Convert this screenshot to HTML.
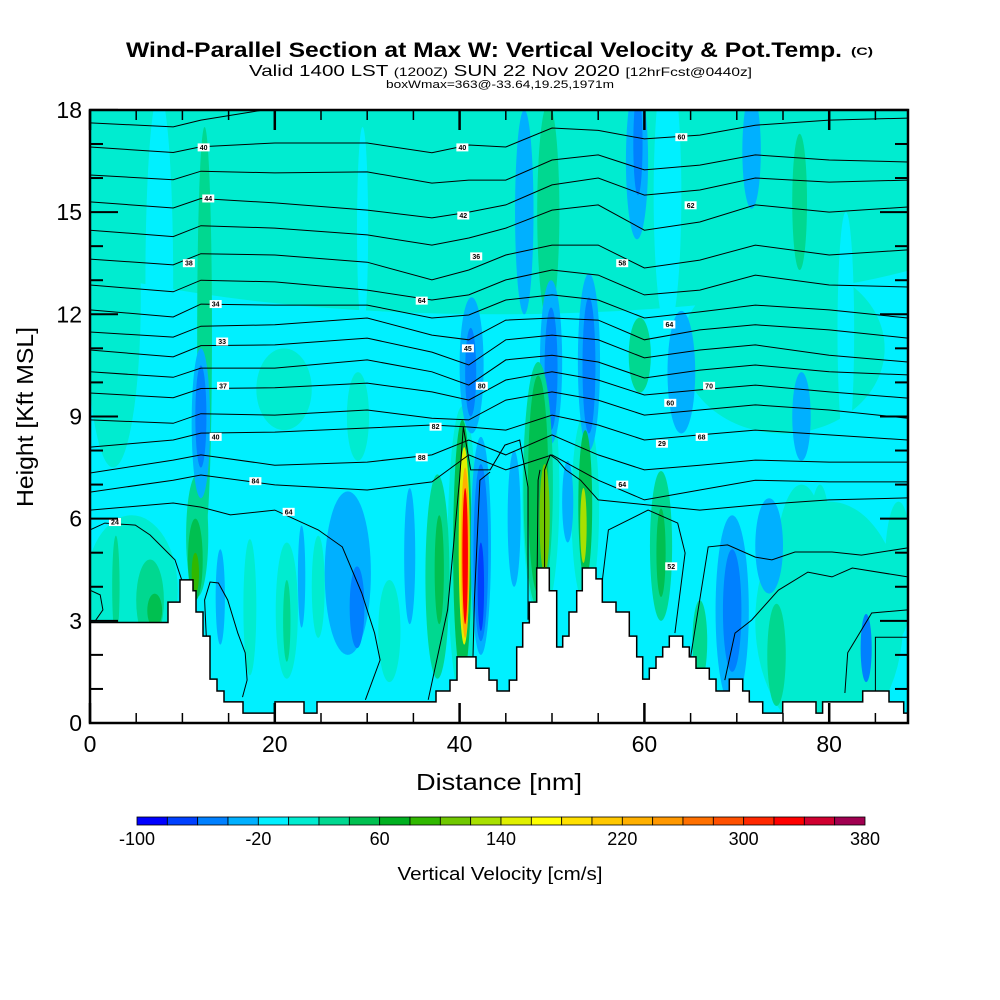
<!DOCTYPE html>
<html><head><meta charset="utf-8"><style>
html,body{margin:0;padding:0;background:#fff}
svg{display:block}
text{font-family:"Liberation Sans",Arial,sans-serif}
</style></head><body>
<svg id="chart" width="1000" height="1000" viewBox="0 0 1000 1000">
<defs><clipPath id="plotclip"><rect x="90" y="110" width="818" height="613"/></clipPath></defs>
<g>
<text x="126" y="57" font-size="21" font-weight="bold" textLength="716" lengthAdjust="spacingAndGlyphs">Wind-Parallel Section at Max W: Vertical Velocity &amp; Pot.Temp.</text>
<text x="851" y="55" font-size="11" font-weight="bold" textLength="22" lengthAdjust="spacingAndGlyphs">(C)</text>
<text x="249" y="76" font-size="16" textLength="503" lengthAdjust="spacingAndGlyphs">Valid 1400 LST <tspan font-size="12">(1200Z)</tspan> SUN 22 Nov 2020 <tspan font-size="12">[12hrFcst@0440z]</tspan></text>
<text x="386" y="88" font-size="11" textLength="228" lengthAdjust="spacingAndGlyphs">boxWmax=363@-33.64,19.25,1971m</text>
</g>
<g id="plot" clip-path="url(#plotclip)"></g>
<g id="axes"></g>
<g id="cbar"></g>
<text transform="translate(33,417) rotate(-90)" text-anchor="middle" font-size="23" textLength="180" lengthAdjust="spacingAndGlyphs">Height [Kft MSL]</text>
<text x="499" y="790" text-anchor="middle" font-size="23" textLength="166" lengthAdjust="spacingAndGlyphs">Distance [nm]</text>
<text x="500" y="880" text-anchor="middle" font-size="18" textLength="205" lengthAdjust="spacingAndGlyphs">Vertical Velocity [cm/s]</text>
</svg>
<script>
// ---- data ----
const binColors=["#0000ff","#0040ff","#0080ff","#00b0ff","#00f0ff","#00ecd0","#00d890","#00c050","#00b020","#30b800","#70c800","#a8e000","#e0f000","#ffff00","#ffe000","#ffc800","#ffb000","#ff9800","#ff7000","#ff5000","#ff2800","#ff0000","#d00030","#a00050"];
const cbarTicks=[-100,-20,60,140,220,300,380];
const xTicks=[0,20,40,60,80];
const yTicks=[0,3,6,9,12,15,18];
const baseW=-10;
const featX=[44,75,4.5,77,48.8,53.6,40.3,87.5,21,29,2.5,80,7.5,62.5,81.8,29.5,12.4,11.6,11.4,11.4,12.0,12.0,2.8,6.5,7,14.1,27.9,28.9,22.9,34.6,21.3,21.3,17.3,24.7,32.4,37.6,37.8,40.3,40.5,40.6,40.6,42.3,42.3,42.3,41.3,41.2,47,49.6,59.2,59.3,71.6,76.8,49.9,54,49.9,54,64,77,59.5,48.5,48.5,49.2,53.6,53.4,45.9,51.7,61.8,61.8,66,69.5,69.5,73.5,84,79,74.3];
const featY=[16.2,11,3.9,4,6.8,6.3,5.0,4.5,9.8,9.0,12.5,3,13,15.5,11.5,14.5,11.5,5.5,4.8,4.4,8.8,9.0,4.0,3.6,3.3,3.7,4.4,3.4,4.3,4.9,3.3,3.0,3.4,4.0,2.7,4.3,4.5,5.1,5.2,5.0,4.9,5.2,5.0,4.0,10.5,10.3,15,15,16.5,17,16.8,15.3,10.6,10.6,10.4,10.5,10.3,9,10.8,7.0,7.0,6.0,6.4,5.8,6.0,6.5,5.2,5.0,2.4,3.3,3.3,5.2,2.2,4.5,2.0];
const featRX=[62,11,5,3,2.0,1.5,1.6,1.5,3,1.2,3,8,1.5,1.5,0.9,0.6,0.8,1.2,0.8,0.4,1.0,0.6,0.4,1.5,0.8,0.5,2.5,0.8,0.4,0.6,1.2,0.4,0.7,0.7,1.2,1.3,0.5,1.0,0.6,0.45,0.3,1.1,0.8,0.35,1.3,0.6,1,1.2,1.2,0.5,1,0.8,1.2,1.2,0.7,0.7,1.5,1,1.2,1.6,1.1,0.55,0.75,0.35,0.7,0.6,1.2,0.5,0.8,1.8,1.0,1.5,0.6,1.3,1];
const featRY=[4.2,2.5,2.2,3,3.8,2.8,4.3,2,1.2,1.3,5,3.5,5.5,4,3.5,3,6,1.8,1.2,0.6,2.2,1.5,1.5,1.2,0.5,1.4,2.4,1.2,1.5,2,2,1.2,2,1.5,1.5,3,1.6,3.8,2.9,2.5,2.0,3.2,2.6,1.3,2.0,1.3,3,3.2,2.3,1.5,1.7,2,2.4,2.6,1.8,2,1.8,1.3,1.1,3.6,3.2,1.6,2.2,1.1,2,1.2,2.2,1.3,1.2,2.8,1.8,1.4,1,2.5,1.5];
const featW=[10,10,10,10,10,10,10,10,10,10,10,10,-10,-10,-10,-10,30,30,50,90,-30,-50,30,30,50,-30,-30,-50,-30,-30,10,30,10,10,10,30,50,50,150,230,330,-30,-50,-70,-30,-50,-30,30,-30,-50,-30,30,-30,-30,-50,-50,-30,-30,30,30,50,110,50,130,-30,-30,30,50,30,-30,-50,-30,-50,10,30];
const terrainNm=[0,8.44,9.74,11.15,11.47,12.23,12.99,13.74,14.50,16.56,20.02,23.16,24.57,37.45,38.96,39.72,41.77,43.18,44.05,45.38,46.18,46.83,47.54,48.34,49.71,50.51,51.16,51.84,52.67,53.28,54.76,55.44,56.93,58.37,59.17,59.82,60.53,61.26,61.98,62.69,64.14,64.86,65.58,67.02,67.75,69.19,70.64,71.35,72.80,74.97,78.57,79.29,83.63,86.47,88.06];
const terrainKft=[2.95,3.55,4.2,3.88,3.26,2.55,1.29,0.94,0.62,0.29,0.62,0.29,0.62,0.94,1.26,1.94,1.61,1.26,0.94,1.26,2.23,2.94,3.55,4.55,3.88,2.23,2.55,3.26,3.88,4.55,4.23,3.55,3.26,2.55,1.94,1.29,1.61,1.94,2.23,2.55,2.23,1.94,1.61,1.29,0.94,1.29,0.94,0.62,0.29,0.62,0.29,0.62,0.94,0.62,0.29];
const terrainEndNm=88.6;
const thetaNodesNm=[0,9,12,20,30,37,41,45,50,55,60,66,72,80,88.5];
const thetaRows=[
[17.62,17.5,17.7,18.05,18.05,18.05,18.05,18.05,18.05,18.05,18.05,18.05,18.05,18.05,18.05],
[16.91,16.75,16.92,17.03,17.03,16.74,16.97,16.91,17.47,17.4,17.15,17.26,17.55,17.7,17.76],
[16.09,15.95,16.2,16.15,16.18,15.85,15.94,15.94,16.53,16.68,16.24,16.38,16.68,16.53,16.47],
[15.3,15.12,15.4,15.27,15.06,14.83,15.0,15.21,15.8,16.0,15.5,15.65,16.0,15.88,15.94],
[14.47,14.28,14.6,14.53,14.33,14.03,14.24,14.53,15.06,15.21,14.47,14.71,15.21,15.0,15.15],
[13.62,13.45,13.78,13.74,13.53,13.01,13.3,13.74,14.03,14.03,13.36,13.59,14.03,13.74,13.89],
[12.86,12.66,13.0,12.95,12.71,12.42,12.57,13.01,13.3,13.15,12.57,12.71,13.15,12.86,12.8],
[12.13,11.92,12.3,12.27,12.27,11.89,11.98,12.42,12.57,12.42,11.89,12.07,12.27,12.13,11.89],
[11.48,11.33,11.65,11.69,11.89,11.39,11.25,11.83,11.89,11.83,11.25,11.54,11.69,11.54,11.30],
[10.95,10.75,11.08,11.10,11.30,10.89,10.51,11.25,11.39,11.25,10.72,10.95,11.10,10.80,10.60],
[10.31,10.15,10.42,10.42,10.66,10.31,9.92,10.66,10.80,10.60,10.13,10.36,10.51,10.31,10.22],
[9.69,9.55,9.82,9.84,9.98,9.72,9.48,10.07,10.31,10.07,9.63,9.78,9.92,9.72,9.54],
[8.90,8.8,9.08,9.04,9.19,8.95,8.90,9.48,9.72,9.48,9.04,9.19,9.34,9.19,8.95],
[8.10,8.31,8.51,8.54,8.66,8.75,8.69,8.6,9.04,8.75,8.31,8.46,8.60,8.46,8.31],
[7.34,7.72,7.87,7.57,7.66,7.87,8.31,7.87,8.46,7.87,7.43,7.57,7.72,7.66,7.66],
[6.78,7.13,7.28,6.99,6.84,7.08,7.87,7.43,7.87,7.13,6.55,6.84,7.13,7.08,7.08]];
const thetaFreeNm=[
[0,9.0,12.0,15.2,20.0,24.7,27.3,29.4,30.8,31.4,29.8],
[36.6,38.7,40.0,40.4,41.2,43.3,44.9,46.5,47.4,47.4],
[49.2,49.2,49.8,50.6,51.5,53.1,55.0,60.4,66.0,72.0,80.0,88.5],
[55.2,56.1,60.4,63.6,64.4,63.3],
[64.6,66.9,69.0,72.0,73.8,76.3,80.3,83.5,88.5],
[68.7,69.8,71.6,74.5,77.7,80.3,82.5,88.5],
[81.7,82.0,84.6,88.5],
[85.0,85.0,88.5],
[0,1.6,4.9,6.5,9.2,10.3],
[12.8,12.4,13.0,13.9,14.9,16.0,16.8,17.0,16.5],
[0,1.1,1.4,0.5],
[41.45,41.6,42.2,43.3],
[48.4,48.5,48.7]];
const thetaFreeKft=[
[6.25,6.46,6.34,6.11,6.25,5.67,5.17,3.82,2.64,1.85,0.68],
[0.68,3.32,7.16,8.69,7.43,7.43,8.16,8.31,6.93,3.03],
[4.58,7.43,7.87,7.72,7.43,7.13,6.55,6.40,6.25,6.40,6.55,6.61],
[3.61,5.67,6.25,5.87,4.99,2.64],
[1.26,5.17,5.23,4.87,4.79,5.02,5.02,4.93,5.14],
[1.26,2.64,3.02,3.9,4.43,4.29,4.55,4.29],
[0.88,2.06,3.23,3.32],
[0.68,2.52,2.52],
[5.67,5.87,5.81,5.52,4.79,3.9],
[1.26,3.61,4.14,4.11,3.61,2.64,2.06,1.26,0.76],
[3.9,3.76,3.32,2.97],
[1.94,3.61,7.13,7.37],
[4.55,7.13,7.43]];
const labelNm=[12.3,12.8,10.7,13.6,14.3,14.4,13.6,17.9,21.5,2.7,40.3,40.4,41.8,35.9,40.9,42.4,37.4,35.9,64.0,65.0,57.6,62.7,67.0,62.8,66.2,61.9,57.6,62.9];
const labelKft=[16.9,15.4,13.5,12.3,11.2,9.9,8.4,7.1,6.2,5.9,16.9,14.9,13.7,12.4,11.0,9.9,8.7,7.8,17.2,15.2,13.5,11.7,9.9,9.4,8.4,8.2,7.0,4.6];
const labelText=["40","44","38","34","33","37","40","84","64","24","40","42","36","64","45","80","82","88","60","62","58","64","70","60","68","29","64","52"];

// ---- scales ----
const NS="http://www.w3.org/2000/svg";
const sx=nm=>90+nm*9.24;
const sy=k=>723-k*34.06;
const colorFor=w=>{let i=Math.floor((w+100)/20);if(i<0)i=0;if(i>23)i=23;return binColors[i];};
function mk(tag,attrs,parent){const e=document.createElementNS(NS,tag);for(const k in attrs)e.setAttribute(k,attrs[k]);parent.appendChild(e);return e;}
const plot=document.getElementById('plot');
const axes=document.getElementById('axes');
const cbar=document.getElementById('cbar');

const base=mk('rect',{x:sx(0),y:sy(18),width:sx(88.6)-sx(0),height:sy(0)-sy(18),fill:colorFor(baseW)},plot);


for(let i=0;i<featX.length;i++){
  const e=mk('ellipse',{cx:sx(featX[i]),cy:sy(featY[i]),rx:featRX[i]*9.24,ry:featRY[i]*34.06,fill:colorFor(featW[i])},plot);
  
  
}
const lineFn=(xs,ys)=>xs.map((v,j)=>(j?'L':'M')+sx(v).toFixed(1)+' '+sy(ys[j]).toFixed(1)).join(' ');
thetaRows.forEach(r=>{
  const p=mk('path',{d:lineFn(thetaNodesNm,r),fill:'none',stroke:'#000','stroke-width':1},plot);
  
  
});
thetaFreeNm.forEach((r,i)=>{
  const p=mk('path',{d:lineFn(r,thetaFreeKft[i]),fill:'none',stroke:'#000','stroke-width':1},plot);
  
  
});
let td='M'+sx(0)+' '+sy(0);
terrainNm.forEach((n,i)=>{const nx=i+1<terrainNm.length?terrainNm[i+1]:terrainEndNm;td+=' L'+sx(n).toFixed(1)+' '+sy(terrainKft[i]).toFixed(1)+' L'+sx(nx).toFixed(1)+' '+sy(terrainKft[i]).toFixed(1);});
td+=' L'+sx(terrainEndNm)+' '+sy(0)+' Z';
const terr=mk('path',{d:td,fill:'#fff',stroke:'#000','stroke-width':1.5},plot);


labelNm.forEach((n,i)=>{
  const g=mk('g',{},plot);
  
  
  mk('rect',{x:sx(n)-6,y:sy(labelKft[i])-4,width:12,height:8,fill:'#fff'},g);
  const t=mk('text',{x:sx(n),y:sy(labelKft[i])+2.5,'font-size':7,'text-anchor':'middle','font-weight':'bold'},g);
  t.textContent=labelText[i];
});
const fr=mk('rect',{x:90,y:110,width:818,height:613,fill:'none',stroke:'#000','stroke-width':2.5},axes);


for(let k=0;k<=18;k++){
  const L=k%3===0?28:13;
  mk('line',{x1:90,x2:90+L,y1:sy(k),y2:sy(k),stroke:'#000','stroke-width':2},axes);
  mk('line',{x1:908,x2:908-L,y1:sy(k),y2:sy(k),stroke:'#000','stroke-width':2},axes);
}
for(let n=0;n<=85;n+=5){
  const L=n%20===0?20:10;
  mk('line',{x1:sx(n),x2:sx(n),y1:110,y2:110+L,stroke:'#000','stroke-width':n%20===0?2.5:1.5},axes);
  mk('line',{x1:sx(n),x2:sx(n),y1:723,y2:723-L,stroke:'#000','stroke-width':n%20===0?2.5:1.5},axes);
}
yTicks.forEach(k=>{
  const t=mk('text',{x:82,y:sy(k)+8,'text-anchor':'end','font-size':23},axes);
  
  
  t.textContent=k;
});
xTicks.forEach(n=>{
  const t=mk('text',{x:sx(n),y:752,'text-anchor':'middle','font-size':23},axes);
  
  
  t.textContent=n;
});
const cb0=137,cbW=(865-137)/24;
binColors.forEach((c,i)=>{
  const r=mk('rect',{x:cb0+i*cbW,y:817,width:cbW,height:8,fill:c,stroke:'#000','stroke-width':0.8},cbar);
  
  
});
cbarTicks.forEach(v=>{
  const t=mk('text',{x:cb0+(v+100)/20*cbW,y:845,'text-anchor':'middle','font-size':18},cbar);
  
  
  t.textContent=v;
});
</script>
</body></html>
